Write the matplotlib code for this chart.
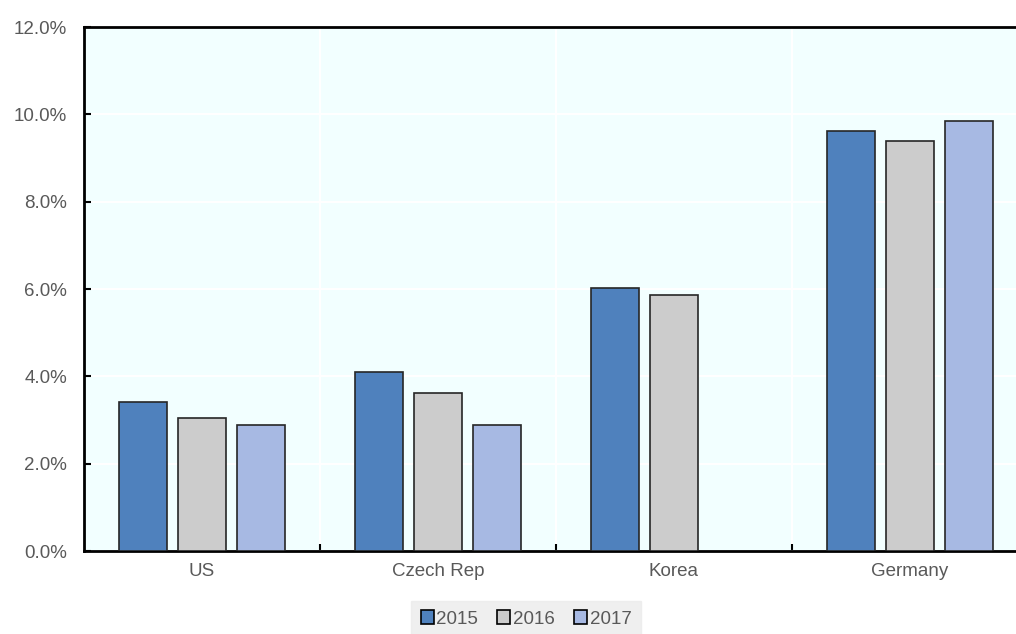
import matplotlib
matplotlib.use("Agg")
import matplotlib.pyplot as plt
import numpy as np
from matplotlib.ticker import FuncFormatter, FixedLocator

categories = ["US", "Czech Rep", "Korea", "Germany"]
years = ["2015", "2016", "2017"]
v2015 = [3.41, 4.10, 6.02, 9.62]
v2016 = [3.05, 3.62, 5.86, 9.39]
v2017 = [2.89, 2.89, np.nan, 9.85]
series = [v2015, v2016, v2017]
colors = ["#4F81BD", "#CCCCCC", "#A7B9E3"]

plt.rcParams['font.family'] = ['Liberation Sans', 'DejaVu Sans']
fig = plt.figure(figsize=(10.16, 6.34), dpi=100)
W, H = 1016, 634
left, right, top, bottom = 84, 1028, 27, 551
ax = fig.add_axes([left / W, 1 - bottom / H, (right - left) / W, (bottom - top) / H])
ax.set_facecolor("#F2FFFF")

x = np.arange(len(categories))
bw = 0.2
offs = [-0.25, 0.0, 0.25]
handles = []
for vals, c, o, y in zip(series, colors, offs, years):
    h = ax.bar(x + o, vals, width=bw, color=c, edgecolor="#262626", linewidth=1.2, label=y, zorder=3)
    handles.append(h)

ax.set_xlim(-0.5, 3.5)
ax.set_ylim(0, 12)
ax.set_yticks(np.arange(0, 12.1, 2))
ax.yaxis.set_major_formatter(FuncFormatter(lambda v, p: f"{v:.1f}%"))
ax.set_xticks(x)
ax.set_xticklabels(categories)
ax.xaxis.set_minor_locator(FixedLocator([0.5, 1.5, 2.5]))
ax.tick_params(axis='x', which='major', length=0, pad=9, labelsize=13.5, labelcolor="#595959")
ax.tick_params(axis='x', which='minor', length=5, direction='in', width=1.5, color='black')
ax.tick_params(axis='y', which='major', length=5, direction='in', width=1.5, pad=12, labelsize=13.5, labelcolor="#595959")
ax.grid(True, axis='y', which='major', color='white', linewidth=1.5, zorder=0)
ax.grid(True, axis='x', which='minor', color='white', linewidth=1.5, zorder=0)
ax.set_axisbelow(True)
for s in ['left', 'top', 'bottom']:
    ax.spines[s].set_linewidth(2)
    ax.spines[s].set_color('black')
ax.spines['right'].set_visible(False)

leg = fig.legend(handles=handles, labels=years, loc='center', bbox_to_anchor=(526 / W, 1 - 619 / H),
                 ncol=3, frameon=True, fancybox=False, handlelength=0.7, handleheight=0.7,
                 handletextpad=0.15, columnspacing=1.0, fontsize=13.5, borderpad=0.5)
leg.get_frame().set_facecolor("#EBEBEB")
leg.get_frame().set_edgecolor("#EBEBEB")
for t in leg.get_texts():
    t.set_color("#595959")
for p in leg.get_patches():
    p.set_edgecolor("black")

fig.savefig("out.png", dpi=100)
